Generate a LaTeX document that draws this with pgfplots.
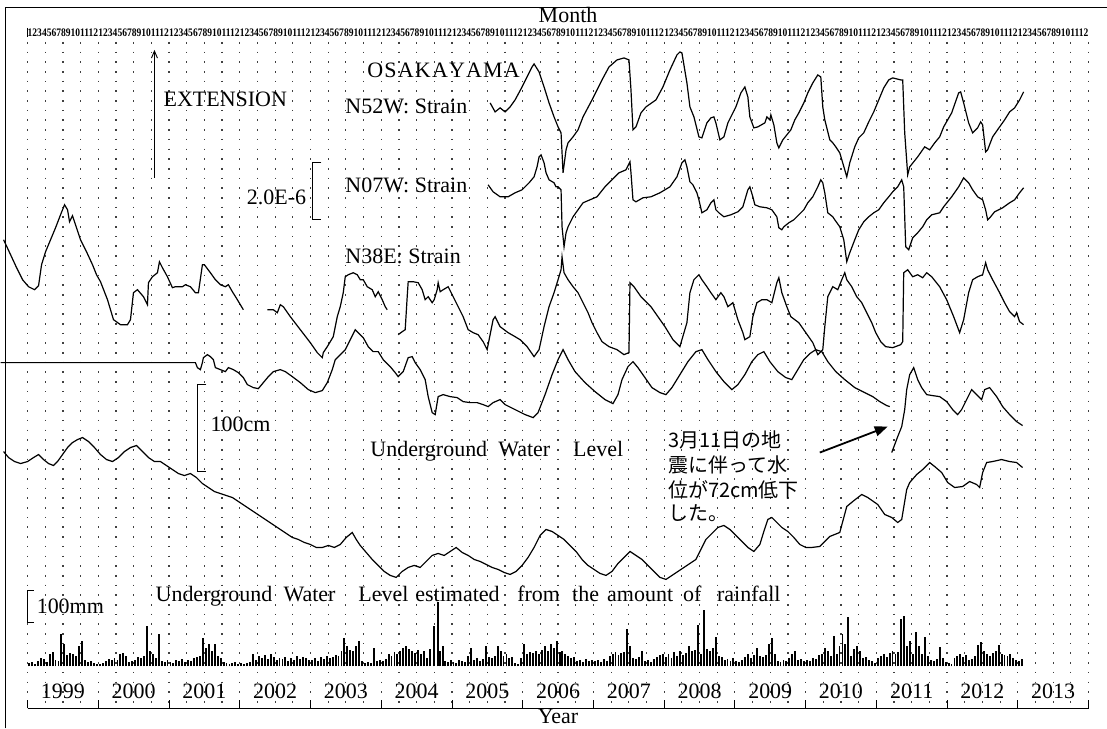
\documentclass[border=0pt]{standalone}
\usepackage{pgfplots}
\pgfplotsset{compat=1.18}
\usepackage{fontspec}
\setmainfont{Liberation Serif}
\newfontfamily\jp{Noto Sans CJK JP}
\usetikzlibrary{arrows.meta}
\tikzset{lab/.style={font=\fontsize{22}{24}\selectfont, inner sep=0pt},
         wl/.style={font=\fontsize{22}{24}\selectfont, inner sep=0pt, anchor=west},
         bw/.style={font=\fontsize{22}{24}\selectfont, inner sep=0pt, anchor=base west},
         jlab/.style={font=\jp\fontsize{20}{22}\selectfont, inner sep=0pt, anchor=west}}
\begin{document}
\begin{tikzpicture}
\begin{axis}[width=1107pt,height=729pt,scale only axis,xmin=0,xmax=1107,ymin=0,ymax=729,
  y dir=reverse,hide axis,clip=false]
\path (axis cs:0,0) rectangle (axis cs:1107,729);
% frame
\draw[line width=1pt] (axis cs:5,729) -- (axis cs:5,7.5) -- (axis cs:1107,7.5);
% dotted grid
\pgfplotsinvokeforeach{0,...,60}{\draw[line width=1.2pt, dash pattern=on 1.6pt off 8.1pt, black!75] (axis cs:{27+17.7*#1},42) -- (axis cs:{27+17.7*#1},709);}
% x axis
\draw[line width=0.9pt] (axis cs:27,709) -- (axis cs:1089,709);
\pgfplotsinvokeforeach{0,...,15}{\draw[line width=0.9pt] (axis cs:{27+70.8*#1},709) -- (axis cs:{27+70.8*#1},701);}
\pgfplotsinvokeforeach{1999,...,2013}{\node[lab] at (axis cs:{27+70.8*(#1-1999)+35.4},692) {#1};}
\node[lab] at (axis cs:568,15) {Month};
\node[lab] at (axis cs:558,717) {Year};
\draw[line width=0.8pt] (axis cs:27,28) -- (axis cs:27,37);
\pgfplotsinvokeforeach{0,...,14}{\node[inner sep=0pt] at (axis cs:{27+70.8*#1+35.4},32.5) {\scalebox{0.83}[1]{\fontsize{11.5}{11.5}\selectfont\bfseries 123456789101112}};}
% labels
\node[wl] at (axis cs:163,99) {EXTENSION};
\draw[line width=0.9pt, -{Straight Barb[length=7pt,width=6pt]}] (axis cs:154,178) -- (axis cs:154,50);
\node[wl] at (axis cs:367,70) {O\kern1.2pt S\kern1.2pt A\kern1.2pt K\kern1.2pt A\kern1.2pt Y\kern1.2pt A\kern1.2pt M\kern1.2pt A};
\node[wl] at (axis cs:345,106) {N52W:\ Strain};
\node[wl] at (axis cs:345,186) {N07W:\ Strain};
\node[wl] at (axis cs:345,257) {N38E:\ Strain};
\node[lab,anchor=east] at (axis cs:306,198) {2.0E-6};
\draw[line width=0.9pt] (axis cs:321,163) -- (axis cs:312,163) -- (axis cs:312,220) -- (axis cs:321,220);
\node[wl] at (axis cs:210,425) {100cm};
\draw[line width=0.9pt] (axis cs:206,385) -- (axis cs:197,385) -- (axis cs:197,472) -- (axis cs:206,472);
\node[bw] at (axis cs:370,456.5) {Underground};
\node[bw] at (axis cs:498,456.5) {Water};
\node[bw] at (axis cs:573,456.5) {Level};
\node[bw] at (axis cs:155,602.5) {Underground};
\node[bw] at (axis cs:283,602.5) {Water};
\node[bw] at (axis cs:358,602.5) {Level};
\node[bw] at (axis cs:415,602.5) {estimated};
\node[bw] at (axis cs:517,602.5) {from};
\node[bw] at (axis cs:572,602.5) {the};
\node[bw] at (axis cs:607,602.5) {amount};
\node[bw] at (axis cs:683,602.5) {of};
\node[bw] at (axis cs:717,602.5) {rainfall};
\node[wl] at (axis cs:36,607) {100mm};
\draw[line width=0.9pt] (axis cs:33,591) -- (axis cs:27,591) -- (axis cs:27,623) -- (axis cs:33,623);
\node[jlab] at (axis cs:668,440) {3月11日の地};
\node[jlab] at (axis cs:668,465) {震に伴って水};
\node[jlab] at (axis cs:668,490) {位が72cm低下};
\node[jlab] at (axis cs:668,514) {した。};
\draw[line width=1.8pt, -{Triangle[length=13pt,width=10pt]}] (axis cs:820,453) -- (axis cs:888,427);

% N52W strain
\addplot[black, line width=1.2pt] coordinates {(490,103)(495,112)(500,108)(505,112)(510,107)(515,100)(522,87)(527,77)(532,67)(534,64)(539,72)(544,87)(549,103)(554,117)(558,127)(561,133)(563,173)(566,150)(568,143)(573,137)(578,130)(583,117)(592,100)(602,80)(609,67)(617,60)(624,58)(629,60)(631,90)(633,130)(636,127)(641,113)(646,107)(656,100)(663,87)(670,70)(677,55)(680,52)(682,53)(687,83)(690,107)(694,117)(699,137)(702,138)(707,123)(711,118)(714,117)(716,123)(720,140)(724,137)(728,123)(736,107)(741,93)(745,87)(748,97)(750,117)(754,128)(758,127)(765,123)(767,117)(770,120)(771,115)(774,125)(777,143)(779,148)(783,140)(787,135)(791,130)(795,120)(799,113)(804,103)(808,93)(813,83)(818,75)(821,77)(823,107)(825,120)(830,140)(833,143)(836,147)(840,153)(845,170)(847,177)(850,163)(855,147)(859,138)(864,133)(869,122)(874,112)(879,100)(884,88)(889,80)(893,78)(901,80)(903,80)(905,133)(908,175)(910,167)(918,157)(925,147)(930,150)(935,143)(940,137)(944,127)(952,113)(959,93)(961,92)(964,103)(969,123)(973,133)(978,128)(981,122)(983,125)(986,152)(988,150)(993,137)(1000,127)(1005,120)(1010,112)(1015,108)(1020,100)(1024,92)};
% N07W strain
\addplot[black, line width=1.2pt] coordinates {(488,185)(493,192)(500,197)(508,197)(515,193)(522,190)(529,183)(534,177)(537,167)(539,157)(541,155)(544,163)(546,173)(549,180)(554,183)(556,187)(558,187)(561,190)(562,227)(564,247)(566,233)(568,227)(573,217)(578,210)(583,203)(590,200)(597,197)(605,187)(612,180)(619,173)(626,170)(630,162)(631,173)(633,200)(636,202)(643,198)(651,197)(660,193)(670,187)(677,177)(682,163)(685,160)(687,167)(690,182)(693,185)(697,193)(699,200)(702,213)(707,210)(711,203)(714,200)(716,210)(719,213)(724,217)(731,215)(738,212)(743,207)(748,190)(750,187)(753,197)(755,205)(760,207)(767,208)(772,210)(777,217)(779,228)(782,230)(784,227)(789,223)(794,220)(799,215)(804,210)(808,203)(813,197)(818,187)(821,180)(823,183)(825,193)(828,213)(833,217)(835,220)(840,227)(844,240)(847,262)(850,253)(855,240)(859,230)(864,222)(869,217)(874,213)(879,210)(884,203)(889,197)(893,192)(898,187)(902,180)(904,187)(906,247)(909,250)(913,238)(918,233)(923,227)(927,220)(932,215)(940,213)(944,207)(952,197)(959,187)(964,178)(969,183)(973,190)(978,197)(983,200)(986,210)(988,220)(991,217)(995,212)(1003,208)(1010,203)(1015,200)(1020,193)(1024,188)};
% N38E strain (three pieces)
\addplot[black, line width=1.2pt] coordinates {(3,240)(10,255)(16,268)(22,280)(28,287)(34,290)(38,286)(41,265)(45,252)(50,240)(55,228)(60,215)(64,205)(67,210)(69,222)(72,216)(76,228)(80,240)(86,252)(92,265)(96,275)(100,282)(107,300)(113,320)(120,325)(127,325)(130,320)(133,293)(137,290)(143,297)(147,305)(148,283)(152,277)(157,273)(159,262)(162,268)(167,277)(172,288)(175,287)(178,287)(182,287)(185,285)(190,287)(195,293)(198,293)(202,265)(204,265)(210,273)(215,280)(220,285)(225,287)(228,285)(232,292)(237,300)(243,310)};
\addplot[black, line width=1.2pt] coordinates {(267,310)(273,310)(277,313)(280,305)(283,307)(290,317)(300,330)(310,343)(317,353)(322,358)(323,353)(327,347)(333,337)(337,317)(340,307)(343,293)(345,277)(348,275)(353,273)(357,275)(360,280)(363,280)(367,287)(372,290)(375,297)(378,292)(382,300)(385,307)(387,310)};
\addplot[black, line width=1.2pt] coordinates {(398,335)(402,332)(405,330)(407,297)(408,282)(413,282)(418,283)(422,290)(425,300)(428,297)(432,303)(434,300)(437,290)(438,283)(440,292)(443,290)(448,287)(453,297)(458,307)(463,317)(468,330)(473,333)(478,335)(483,342)(487,350)(490,335)(493,320)(495,317)(500,327)(508,333)(515,337)(520,340)(527,347)(534,357)(539,350)(544,327)(549,307)(554,293)(558,280)(561,270)(562,257)(564,273)(568,280)(573,287)(578,293)(583,303)(588,313)(592,323)(597,333)(602,342)(609,347)(617,350)(624,355)(629,353)(630,283)(634,287)(641,297)(651,307)(658,317)(665,327)(673,340)(680,347)(682,340)(687,323)(690,293)(694,280)(699,275)(702,280)(707,287)(711,293)(716,300)(721,293)(724,297)(728,307)(733,303)(738,320)(743,333)(745,340)(750,337)(753,317)(757,303)(762,300)(767,300)(772,303)(777,283)(779,278)(782,293)(787,307)(791,317)(799,323)(806,333)(813,343)(818,355)(823,350)(825,327)(828,297)(833,287)(838,290)(842,280)(845,273)(847,280)(852,287)(857,297)(862,303)(867,313)(872,323)(876,333)(881,342)(886,347)(893,348)(901,345)(903,342)(904,273)(908,270)(913,277)(918,275)(923,278)(927,273)(932,277)(940,287)(947,300)(954,317)(960,333)(964,320)(969,293)(973,280)(978,277)(983,275)(986,263)(988,270)(993,280)(1000,293)(1005,303)(1010,312)(1015,317)(1017,313)(1020,322)(1024,325)};
% Underground water level
\addplot[black, line width=1.2pt] coordinates {(0,363)(195,363)(197,368)(200,370)(202,363)(203,358)(207,355)(210,357)(213,360)(215,368)(220,370)(225,372)(228,368)(233,370)(238,373)(243,378)(247,385)(253,388)(258,389)(263,383)(268,377)(273,372)(280,370)(285,372)(292,377)(300,383)(308,390)(315,393)(322,391)(327,383)(332,370)(335,360)(340,355)(345,350)(350,340)(355,330)(358,333)(363,338)(368,347)(373,352)(378,352)(383,360)(390,367)(395,373)(398,377)(403,372)(408,358)(412,357)(415,363)(420,370)(425,380)(428,397)(432,413)(435,415)(437,403)(438,397)(443,395)(450,397)(457,398)(463,402)(470,403)(477,403)(483,405)(488,407)(493,403)(500,400)(505,405)(515,410)(525,415)(533,418)(538,413)(545,395)(552,375)(558,360)(563,350)(568,360)(575,372)(585,383)(595,392)(605,400)(613,404)(618,395)(622,380)(628,367)(633,362)(638,368)(645,378)(652,388)(660,393)(666,395)(672,388)(680,375)(688,362)(696,352)(702,350)(708,360)(716,372)(724,382)(732,390)(738,385)(745,375)(752,362)(758,355)(764,352)(770,362)(778,372)(786,378)(792,380)(798,370)(804,360)(810,354)(816,350)(822,352)(828,362)(836,372)(845,380)(855,388)(865,393)(873,397)(880,402)(887,406)(890,407)};
\addplot[black, line width=1.2pt] coordinates {(892,453)(898,437)(902,427)(905,410)(907,390)(910,375)(914,368)(918,380)(922,388)(927,395)(933,396)(940,397)(947,402)(953,410)(958,415)(962,410)(967,400)(972,390)(977,395)(982,400)(985,390)(990,388)(997,397)(1003,407)(1010,415)(1017,422)(1023,426)};
% Estimated underground water level from rainfall
\addplot[black, line width=1.2pt] coordinates {(3,452)(8,458)(14,462)(20,464)(27,462)(33,458)(38,455)(43,460)(48,464)(53,466)(57,462)(62,455)(67,448)(72,443)(77,440)(82,438)(88,442)(94,448)(100,455)(106,460)(112,462)(118,458)(124,452)(130,448)(136,446)(142,452)(148,458)(154,462)(160,462)(166,466)(172,470)(178,474)(184,476)(190,474)(196,478)(202,484)(208,488)(214,492)(220,494)(226,496)(232,498)(238,502)(244,506)(250,510)(256,514)(262,518)(268,522)(274,526)(280,530)(286,534)(292,538)(298,540)(304,543)(310,545)(316,548)(322,548)(328,546)(334,548)(340,545)(346,538)(352,533)(356,540)(360,546)(366,553)(372,560)(378,566)(384,572)(390,576)(396,578)(402,572)(408,568)(414,566)(420,568)(426,562)(432,556)(438,554)(444,556)(450,552)(456,548)(462,553)(468,556)(474,560)(480,562)(486,565)(492,568)(498,570)(504,573)(510,575)(516,572)(522,566)(528,558)(534,548)(540,536)(546,530)(552,532)(558,536)(564,540)(570,546)(576,552)(582,560)(588,566)(594,570)(600,574)(606,576)(612,572)(618,564)(624,558)(630,552)(636,556)(642,560)(648,566)(654,572)(660,578)(666,580)(672,576)(678,572)(684,568)(690,564)(696,560)(700,552)(706,540)(712,534)(718,528)(724,526)(730,530)(736,536)(742,542)(748,548)(754,552)(760,545)(764,532)(768,520)(772,518)(776,522)(782,528)(788,532)(794,538)(800,545)(806,548)(812,548)(820,547)(830,537)(840,533)(847,507)(853,502)(862,495)(868,498)(878,505)(885,515)(892,518)(898,523)(902,520)(907,490)(910,483)(917,475)(923,470)(930,463)(935,467)(942,473)(948,483)(955,488)(963,487)(970,482)(977,485)(980,488)(983,473)(987,463)(993,462)(1002,460)(1010,462)(1017,463)(1023,468)};
\end{axis}
% rainfall (mm), baseline at image y = 667, 3 mm per pixel
\begin{axis}[width=1107pt,height=729pt,scale only axis,xmin=0,xmax=1107,ymin=-186,ymax=2001,hide axis]
\addplot[ycomb, black, line width=1.9pt] coordinates {
(28.5,9)(31.4,12)(34.4,6)(37.3,15)(40.3,24)(43.2,21)(46.2,12)(49.1,36)(52.1,42)(55.0,18)(58.0,15)(60.9,96)(63.9,66)(66.8,33)(69.8,39)(72.7,36)(75.7,30)(78.6,60)(81.6,75)(84.5,18)(87.5,12)(90.4,15)(93.4,9)(96.3,6)
(99.3,6)(102.2,9)(105.2,15)(108.1,21)(111.1,18)(114.0,24)(117.0,18)(119.9,36)(122.9,39)(125.8,30)(128.8,12)(131.7,15)(134.7,18)(137.6,27)(140.6,24)(143.5,30)(146.5,120)(149.4,45)(152.4,36)(155.3,24)(158.3,96)(161.2,15)(164.2,12)(167.1,18)
(170.1,12)(173.0,9)(176.0,18)(178.9,15)(181.9,21)(184.8,12)(187.8,18)(190.7,15)(193.7,24)(196.6,27)(199.6,30)(202.5,84)(205.5,54)(208.4,66)(211.4,45)(214.3,66)(217.3,30)(220.2,24)(223.2,12)(226.1,9)(229.1,6)(232.0,9)(235.0,12)(237.9,6)
(240.9,9)(243.8,6)(246.8,9)(249.7,12)(252.7,36)(255.6,18)(258.6,30)(261.5,24)(264.5,33)(267.4,21)(270.4,36)(273.3,27)(276.3,18)(279.2,24)(282.2,21)(285.1,27)(288.1,15)(291.0,24)(294.0,18)(296.9,30)(299.9,21)(302.8,27)(305.8,24)(308.7,18)
(311.7,18)(314.6,24)(317.6,15)(320.5,27)(323.5,21)(326.4,30)(329.4,24)(332.3,27)(335.3,33)(338.2,30)(341.2,45)(344.1,84)(347.1,60)(350.0,48)(353.0,45)(355.9,60)(358.9,75)(361.8,15)(364.8,9)(367.7,12)(370.7,9)(373.6,54)(376.6,15)(379.5,18)
(382.5,15)(385.4,21)(388.4,36)(391.3,30)(394.3,42)(397.2,36)(400.2,45)(403.1,54)(406.1,60)(409.0,51)(412.0,45)(414.9,39)(417.9,48)(420.8,36)(423.8,45)(426.7,24)(429.7,51)(433.8,120)(437.5,192)(440.0,45)(442.5,60)(445.0,15)(448.0,12)(450.8,18)
(453.3,12)(456.2,9)(459.2,18)(462.1,15)(465.1,12)(468.0,30)(471.0,54)(473.9,18)(476.9,24)(479.8,15)(482.8,21)(485.7,60)(488.7,27)(491.6,24)(494.6,30)(497.5,60)(500.5,45)(503.4,30)(506.4,36)(509.3,24)(512.3,27)(515.2,9)(518.2,6)(521.1,24)
(524.1,66)(527.0,36)(530.0,42)(532.9,39)(535.9,45)(538.8,36)(541.8,48)(544.7,60)(547.7,45)(550.6,66)(553.6,54)(556.5,75)(559.5,42)(562.4,45)(565.4,36)(568.3,30)(571.3,24)(574.2,27)(577.2,15)(580.1,18)(583.1,12)(586.0,21)(589.0,15)(591.9,18)
(594.9,15)(597.8,18)(600.8,12)(603.7,21)(606.7,15)(609.6,30)(612.6,36)(615.5,42)(618.5,33)(621.4,39)(624.4,42)(627.3,111)(630.3,60)(633.2,24)(636.2,21)(639.1,27)(642.1,45)(645.0,15)(648.0,18)(650.9,12)(653.9,21)(656.8,27)(659.8,33)(662.7,36)
(665.7,27)(668.6,36)(671.6,24)(674.5,42)(677.5,30)(680.4,45)(683.4,33)(686.3,39)(689.3,60)(692.2,45)(695.2,48)(698.1,123)(701.1,36)(704.0,168)(707.0,51)(709.9,45)(712.9,54)(715.8,87)(718.8,30)(721.7,27)(724.7,18)(727.6,21)(730.6,15)(733.5,24)
(736.5,15)(739.4,12)(742.4,18)(745.3,27)(748.3,36)(751.2,24)(754.2,33)(757.1,54)(760.1,30)(763.0,27)(766.0,33)(768.9,66)(771.9,84)(774.8,36)(777.8,15)(780.7,12)(783.7,18)(786.6,15)(789.6,24)(792.5,36)(795.5,45)(798.4,18)(801.4,21)(804.3,15)
(807.3,18)(810.2,15)(813.2,24)(816.1,21)(819.1,33)(822.0,36)(825.0,54)(827.9,45)(830.9,30)(833.8,90)(836.8,36)(839.7,60)(842.7,96)(845.6,66)(848.6,147)(851.5,30)(854.5,51)(857.4,60)(860.4,45)(863.3,24)(866.3,27)(869.2,18)(872.2,15)(875.1,9)
(878.1,24)(881.0,30)(884.0,36)(886.9,27)(889.9,39)(892.8,45)(895.8,36)(898.7,42)(901.7,141)(904.6,150)(907.6,60)(910.5,75)(913.5,36)(916.4,102)(919.4,60)(922.3,36)(925.3,87)(928.2,30)(931.2,18)(934.1,15)(937.1,21)(940.0,57)(943.0,24)(945.9,12)
(948.9,9)(951.8,6)(954.8,24)(957.7,30)(960.7,36)(963.6,27)(966.6,33)(969.5,18)(972.5,21)(975.4,30)(978.4,63)(981.3,72)(984.3,45)(987.2,36)(990.2,30)(993.1,39)(996.1,45)(999.0,63)(1002.0,36)(1004.9,33)(1007.9,30)(1010.8,36)(1013.8,24)(1016.7,18)(1019.7,15)(1022.6,21)
};
\end{axis}
\end{tikzpicture}
\end{document}
